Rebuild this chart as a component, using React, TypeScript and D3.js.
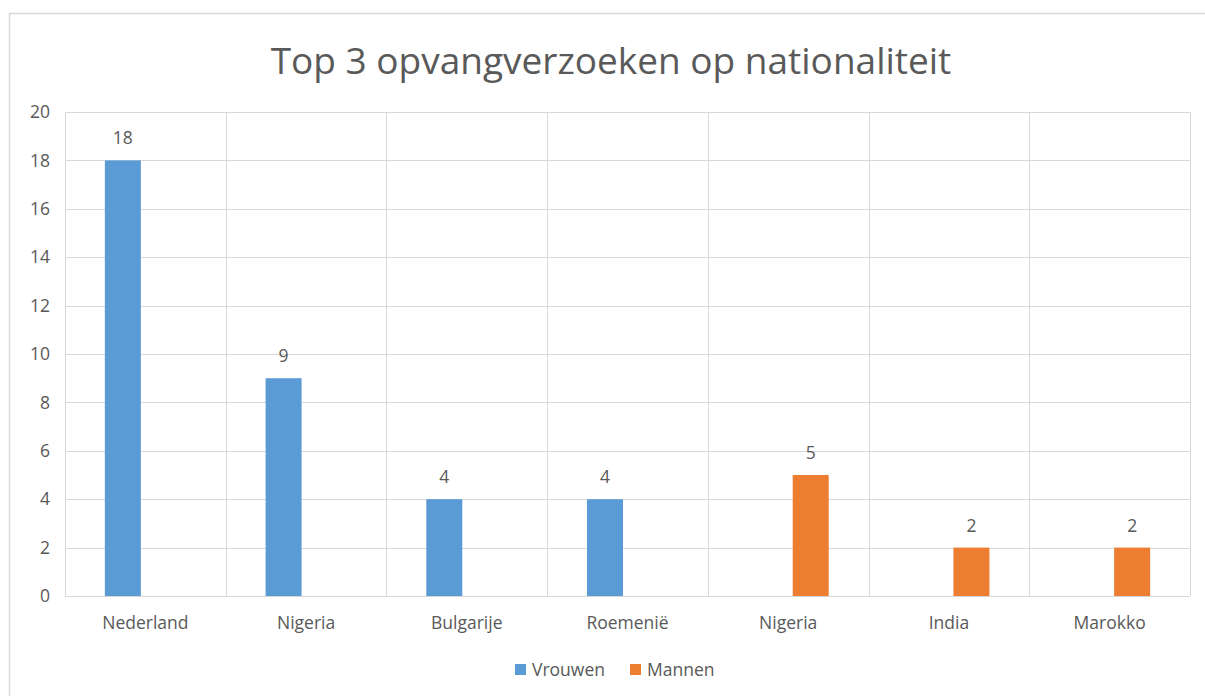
import React from "react";
import * as d3 from "d3";

const categories = ["Nederland", "Nigeria", "Bulgarije", "Roemenië", "Nigeria ", "India", "Marokko"];
const categoryLabels = ["Nederland", "Nigeria", "Bulgarije", "Roemenië", "Nigeria", "India", "Marokko"];
const seriesNames = ["Vrouwen", "Mannen"];
const vrouwen: (number | null)[] = [18, 9, 4, 4, null, null, null];
const mannen: (number | null)[] = [null, null, null, null, 5, 2, 2];
const yTicks = [0, 2, 4, 6, 8, 10, 12, 14, 16, 18, 20];
const colors = ["#5B9BD5", "#ED7D31"];
const title = "Top 3 opvangverzoeken op nationaliteit";

const W = 1205;
const H = 696;
const plot = { left: 65, right: 1190, top: 112, bottom: 596 };
const font = "'Open Sans', 'Liberation Sans', sans-serif";
const textColor = "#595959";
const gridColor = "#D9D9D9";

export default function App() {
  const x = d3.scaleBand<string>().domain(categories).range([plot.left, plot.right]).padding(0);
  const inner = d3
    .scaleBand<string>()
    .domain(seriesNames)
    .range([0, x.bandwidth()])
    .paddingInner(0.2)
    .paddingOuter(0.886);
  const y = d3.scaleLinear().domain([0, 20]).range([plot.bottom, plot.top]);
  const seriesValues = [vrouwen, mannen];

  const vLines = categories.map((c) => x(c)!).concat([plot.right]);

  return (
    <svg width={W} height={H} style={{ position: "absolute", left: 0, top: 0, background: "#fff" }}>
      <rect x={9.5} y={13.5} width={W + 20} height={H + 20} fill="#fff" stroke={gridColor} strokeWidth={1.5} />
      <text x={611} y={74} textAnchor="middle" fontFamily={font} fontSize={37} fill={textColor}>
        {title}
      </text>
      {yTicks.map((t) => (
        <g key={t}>
          <line x1={plot.left} x2={plot.right} y1={Math.round(y(t)) + 0.5} y2={Math.round(y(t)) + 0.5} stroke={gridColor} strokeWidth={1} />
          <text x={50} y={y(t)} dy="0.35em" textAnchor="end" fontFamily={font} fontSize={17.5} fill={textColor}>
            {t}
          </text>
        </g>
      ))}
      {vLines.map((vx, i) => (
        <line key={i} x1={Math.round(vx) + 0.5} x2={Math.round(vx) + 0.5} y1={plot.top} y2={plot.bottom} stroke={gridColor} strokeWidth={1} />
      ))}
      {seriesValues.map((vals, si) =>
        vals.map((v, ci) => {
          if (v == null) return null;
          const bx = x(categories[ci])! + inner(seriesNames[si])!;
          const bw = inner.bandwidth();
          return (
            <g key={`${si}-${ci}`}>
              <rect x={bx} y={y(v)} width={bw} height={y(0) - y(v)} fill={colors[si]} />
              <text x={bx + bw / 2} y={y(v) - 16} textAnchor="middle" fontFamily={font} fontSize={17.5} fill={textColor}>
                {v}
              </text>
            </g>
          );
        })
      )}
      {categories.map((c, i) => (
        <text key={c} x={x(c)! + x.bandwidth() / 2} y={629} textAnchor="middle" fontFamily={font} fontSize={17.5} fill={textColor}>
          {categoryLabels[i]}
        </text>
      ))}
      {seriesNames.map((s, i) => {
        const lx = [515, 630][i];
        return (
          <g key={s}>
            <rect x={lx} y={664} width={11} height={11} fill={colors[i]} />
            <text x={lx + 17} y={676} fontFamily={font} fontSize={17.5} fill={textColor}>
              {s}
            </text>
          </g>
        );
      })}
    </svg>
  );
}
